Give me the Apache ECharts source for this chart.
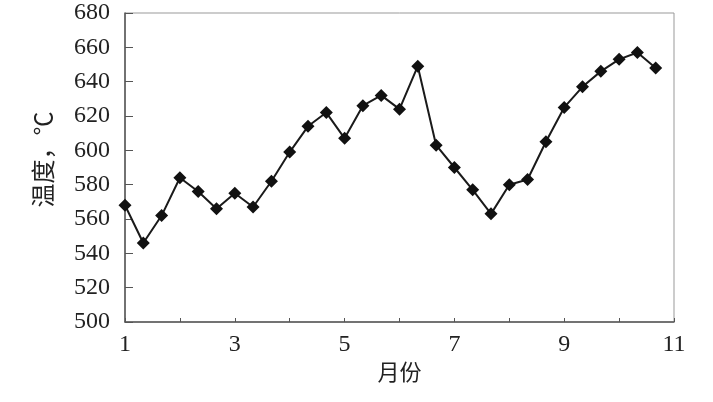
<!DOCTYPE html>
<html><head><meta charset="utf-8">
<script src="https://cdn.jsdelivr.net/npm/echarts@6/dist/echarts.min.js"></script>
<style>html,body{margin:0;padding:0;background:#fff}#c{width:713px;height:402px}</style>
</head><body><div id="c"></div>
<script>
const months = [1,1.333,1.667,2,2.333,2.667,3,3.333,3.667,4,4.333,4.667,5,5.333,5.667,6,6.333,6.667,7,7.333,7.667,8,8.333,8.667,9,9.333,9.667,10,10.333,10.667];
const temps = [568,546,562,584,576,566,575,567,582,599,614,622,607,626,632,624,649,603,590,577,563,580,583,605,625,637,646,653,657,648];
const xTickLabels = [1,3,5,7,9,11];
const yName = '温度，℃';
const xName = '月份';

const font = '"Liberation Serif", "Noto Sans CJK SC", serif';
const chart = echarts.init(document.getElementById('c'));
chart.setOption({
  animation:false,
  backgroundColor:'#fff',
  grid:{left:125,top:13,right:39,bottom:80,show:true,borderColor:'#999',borderWidth:1},
  xAxis:{type:'value',min:1,max:11,interval:1,
    name:xName,nameLocation:'middle',nameGap:41,
    nameTextStyle:{fontFamily:font,fontSize:22,color:'#222'},
    axisLine:{show:true,lineStyle:{color:'#555',width:1.5}},
    axisTick:{show:true,inside:true,length:4,lineStyle:{color:'#555'}},
    splitLine:{show:false},
    axisLabel:{fontFamily:font,fontSize:24,color:'#222',margin:11,
      formatter:v=>xTickLabels.includes(v)?String(v):''}
  },
  yAxis:{type:'value',min:500,max:680,interval:20,
    name:yName,nameLocation:'middle',nameGap:67,nameRotate:90,
    nameTextStyle:{fontFamily:font,fontSize:24,color:'#222',padding:[0,0,0,16]},
    axisLine:{show:true,lineStyle:{color:'#555',width:1.5}},
    axisTick:{show:true,inside:true,length:8,lineStyle:{color:'#555'}},
    splitLine:{show:false},
    axisLabel:{fontFamily:font,fontSize:24,color:'#222',margin:15}
  },
  series:[{type:'line',data:months.map((m,i)=>[m,temps[i]]),
    symbol:'diamond',symbolSize:13,
    lineStyle:{color:'#1a1a1a',width:2},
    itemStyle:{color:'#111'}
  }]
});
</script></body></html>
